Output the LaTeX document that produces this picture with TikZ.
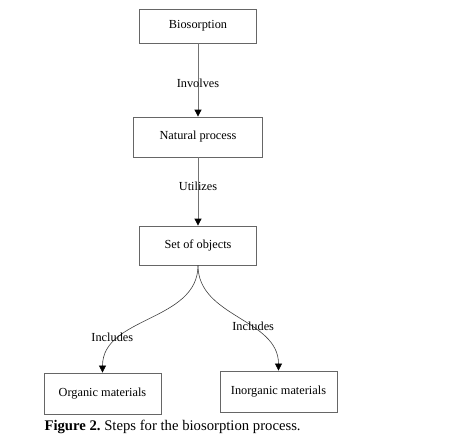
\documentclass[tikz,border=0pt]{standalone}
\usepackage{fontspec}
\setmainfont{Liberation Serif}
\usetikzlibrary{arrows.meta,positioning}

\begin{document}
\begin{tikzpicture}[
  x=1pt, y=-1pt,
  every node/.style={font=\fontsize{12.3}{14}\selectfont},
  stage/.style={draw=black!60, line width=0.8pt, minimum width=117pt,
                minimum height=37pt, align=center, inner sep=2pt},
  link/.style={draw=black!55, line width=0.8pt,
               -{Triangle[length=7pt,width=7pt,color=black]}},
  curvelink/.style={link, draw=black!75, line width=0.6pt},
  lbl/.style={inner sep=0pt},
]
\useasboundingbox (0,0) rectangle (461,439);

\node[stage, minimum height=34pt] (bio) at (198, 26) {Biosorption};
\node[stage, minimum width=129pt, minimum height=40pt] (nat) at (198, 137) {Natural process};
\node[stage, minimum height=39pt] (objs) at (198, 245.5) {Set of objects};
\node[stage, minimum height=41pt] (org) at (102.5, 393.5) {Organic materials};
\node[stage, minimum height=41pt] (inorg) at (278.5, 391.5) {Inorganic materials};

\draw[link] (bio) -- node[lbl, pos=0.54] {Involves} (nat);
\draw[link] (nat) -- node[lbl, pos=0.42] {Utilizes} (objs);

% branches
\draw[curvelink] (objs.south) to[out=-90, in=90]
  node[lbl, pos=0.78, xshift=-2pt, yshift=6pt] {Includes} (org.north);
\draw[curvelink] (objs.south) to[out=-90, in=90]
  node[lbl, pos=0.6, xshift=3pt] {Includes} (inorg.north);

\node[anchor=west, font=\fontsize{14.7}{16}\selectfont] (cap) at (41, 427)
  {\frenchspacing\textbf{Figure 2.} Steps for the biosorption process.};
\end{tikzpicture}
\end{document}
